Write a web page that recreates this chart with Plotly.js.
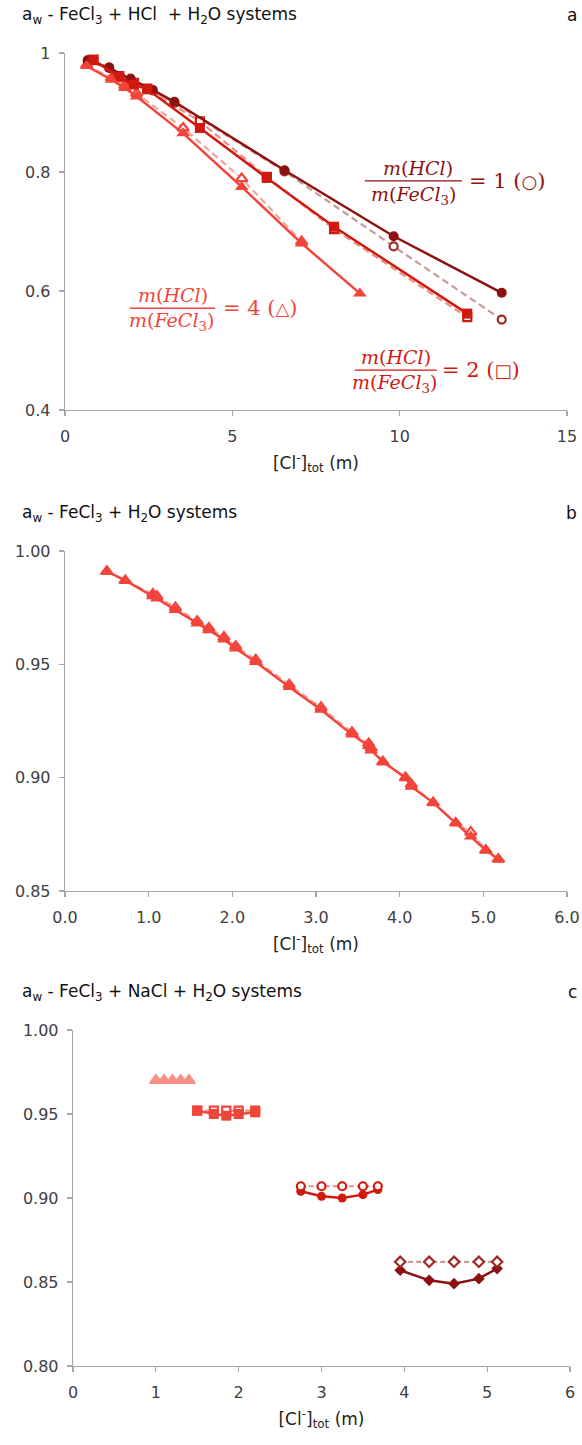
<!DOCTYPE html>
<html><head><meta charset="utf-8">
<script src="https://cdn.plot.ly/plotly-3.0.1.min.js"></script>
<style>html,body{margin:0;padding:0;background:#fff}#chart{width:582px;height:1445px}</style>
</head><body><div id="chart"></div>
<script>
// ---------- Panel a: aw - FeCl3 + HCl + H2O ----------
const a1_x = [0.68, 1.32, 1.96, 2.62, 3.27, 6.56, 9.82, 13.05];
const a1_y = [0.987, 0.975, 0.956, 0.938, 0.918, 0.803, 0.692, 0.597];
const a1d_x = [0.68, 1.32, 1.96, 2.62, 3.27, 6.56, 9.82, 13.05];
const a1d_y = [0.988, 0.976, 0.957, 0.937, 0.916, 0.801, 0.675, 0.552];
const a2_x = [0.85, 1.62, 2.06, 2.46, 4.03, 6.03, 8.04, 12.02];
const a2_y = [0.988, 0.960, 0.947, 0.939, 0.874, 0.790, 0.708, 0.562];
const a2d_x = [0.85, 1.62, 2.06, 2.46, 4.03, 6.03, 8.04, 12.02];
const a2d_y = [0.989, 0.961, 0.950, 0.940, 0.885, 0.792, 0.704, 0.556];
const a3_x = [0.65, 1.39, 1.79, 2.14, 3.53, 5.28, 7.07, 8.81];
const a3_y = [0.978, 0.955, 0.941, 0.927, 0.865, 0.775, 0.680, 0.596];
const a3d_x = [0.65, 1.39, 1.79, 2.14, 3.53, 5.28, 7.07];
const a3d_y = [0.980, 0.958, 0.945, 0.932, 0.874, 0.789, 0.683];

// ---------- Panel b: aw - FeCl3 + H2O ----------
const b_x = [0.5, 0.72, 1.05, 1.1, 1.32, 1.58, 1.72, 1.9, 2.04, 2.28, 2.68, 3.06, 3.43, 3.63, 3.66, 3.8, 4.07, 4.14, 4.4, 4.67, 4.85, 5.03, 5.18];
const b_y = [0.991, 0.987, 0.980, 0.979, 0.974, 0.968, 0.965, 0.961, 0.957, 0.951, 0.940, 0.930, 0.919, 0.914, 0.912, 0.907, 0.900, 0.896, 0.889, 0.880, 0.874, 0.868, 0.864];
const bd_y = [0.991, 0.987, 0.981, 0.980, 0.975, 0.969, 0.966, 0.962, 0.958, 0.952, 0.941, 0.931, 0.920, 0.915, 0.913, 0.907, 0.900, 0.897, 0.889, 0.880, 0.876, 0.868, 0.864];

// ---------- Panel c: aw - FeCl3 + NaCl + H2O ----------
const c1_x = [1.0, 1.1, 1.2, 1.3, 1.4];
const c1_y = [0.970, 0.970, 0.970, 0.970, 0.970];
const c1d_y = [0.970, 0.970, 0.970, 0.970, 0.970];
const c2_x = [1.5, 1.7, 1.85, 2.0, 2.2];
const c2_y = [0.952, 0.950, 0.949, 0.950, 0.951];
const c2d_y = [0.952, 0.952, 0.952, 0.952, 0.952];
const c3_x = [2.75, 3.0, 3.25, 3.5, 3.68];
const c3_y = [0.904, 0.901, 0.900, 0.902, 0.905];
const c3d_y = [0.907, 0.907, 0.907, 0.907, 0.907];
const c4_x = [3.95, 4.3, 4.6, 4.9, 5.12];
const c4_y = [0.857, 0.851, 0.849, 0.852, 0.858];
const c4d_y = [0.862, 0.862, 0.862, 0.862, 0.862];

const titles = [
  "a<sub>w</sub> - FeCl<sub>3</sub> + HCl  + H<sub>2</sub>O systems",
  "a<sub>w</sub> - FeCl<sub>3</sub> + H<sub>2</sub>O systems",
  "a<sub>w</sub> - FeCl<sub>3</sub> + NaCl + H<sub>2</sub>O systems"
];
const letters = ["a", "b", "c"];
const xTitle = "[Cl<sup>-</sup>]<sub>tot</sub> (m)";

// colours
const DARK = '#8E1111', DARKD = '#C99A96', DARKM = '#9E2A26';
const RED = '#D0190F', REDD = '#EE8C86';
const ORG = '#F2443A', ORGD = '#F7A49B';
const SAL = '#F58F86';

const W = 582, H = 1445;
const PX = p => p / W, PY = p => 1 - p / H;

function line(x, y, color, sym, size, xa, ya, dash, mcolor, open) {
  return {
    x: x, y: y, xaxis: xa, yaxis: ya, type: 'scatter', mode: 'lines+markers',
    line: {color: color, width: dash ? 2.2 : 2.5, dash: dash || 'solid'},
    marker: open ? {symbol: sym, size: size, color: '#ffffff', line: {width: 2.2, color: mcolor || color}}
                 : {symbol: sym, size: size, color: mcolor || color},
    cliponaxis: false, showlegend: false, hoverinfo: 'x+y'
  };
}

const data = [
  // panel a (dashed first, solids on top)
  line(a1d_x, a1d_y, DARKD, 'circle', 8, 'x', 'y', '7px,4px', DARKM, true),
  line(a2d_x, a2d_y, REDD, 'square', 8, 'x', 'y', '7px,4px', RED, true),
  line(a3d_x, a3d_y, ORGD, 'triangle-up', 10, 'x', 'y', '7px,4px', ORG, true),
  line(a1_x, a1_y, DARK, 'circle', 10, 'x', 'y'),
  line(a2_x, a2_y, RED, 'square', 10, 'x', 'y'),
  line(a3_x, a3_y, ORG, 'triangle-up', 12, 'x', 'y'),
  // panel b
  line(b_x, bd_y, ORGD, 'triangle-up', 10, 'x2', 'y2', '7px,4px', ORG, true),
  line(b_x, b_y, ORG, 'triangle-up', 12, 'x2', 'y2'),
  // panel c
  line(c1_x, c1d_y, ORGD, 'triangle-up', 10, 'x3', 'y3', '5px,3px', SAL, true),
  line(c1_x, c1_y, SAL, 'triangle-up', 12, 'x3', 'y3'),
  line(c2_x, c2d_y, REDD, 'square', 8, 'x3', 'y3', '5px,3px', ORG, true),
  line(c2_x, c2_y, ORG, 'square', 10, 'x3', 'y3'),
  line(c3_x, c3_y, RED, 'circle', 9, 'x3', 'y3'),
  line(c3_x, c3d_y, REDD, 'circle', 8, 'x3', 'y3', '5px,3px', RED, true),
  line(c4_x, c4_y, DARK, 'diamond', 9, 'x3', 'y3'),
  line(c4_x, c4d_y, DARKD, 'diamond', 8, 'x3', 'y3', '5px,3px', DARKM, true)
];

const AX = '#A6A6A6';
const TF = {family: 'DejaVu Sans, Verdana, sans-serif', size: 16, color: '#404040'};
function xax(domain, anchor, range, dtick, fmt) {
  return {domain: domain, anchor: anchor, range: range, dtick: dtick, tick0: 0, tickformat: fmt,
    showgrid: false, zeroline: false, showline: true, linecolor: AX, linewidth: 1.3,
    ticks: 'outside', ticklen: 5, tickcolor: AX, tickwidth: 1.3, tickfont: TF, ticklabelstandoff: 6, fixedrange: true,
    title: {text: xTitle, font: {family: 'DejaVu Sans, sans-serif', size: 17, color: '#222'}, standoff: 12}};
}
function yax(domain, anchor, range, dtick, fmt) {
  return {domain: domain, anchor: anchor, range: range, dtick: dtick, tick0: 0, tickformat: fmt,
    showgrid: false, zeroline: false, showline: true, linecolor: AX, linewidth: 1.3,
    ticks: 'outside', ticklen: 5, tickcolor: AX, tickwidth: 1.3, tickfont: TF, ticklabelstandoff: 5, fixedrange: true};
}

const tops = [53, 551, 1030], bots = [410, 891, 1366];
const lefts = [65, 65, 73], rights = [567, 567, 570];

const layout = {
  width: W, height: H, margin: {l: 0, r: 0, t: 0, b: 0},
  paper_bgcolor: '#fff', plot_bgcolor: '#fff', showlegend: false,
  xaxis: xax([PX(lefts[0]), PX(rights[0])], 'y', [0, 15], 5, ''),
  yaxis: yax([PY(bots[0]), PY(tops[0])], 'x', [0.4, 1], 0.2, ''),
  xaxis2: xax([PX(lefts[1]), PX(rights[1])], 'y2', [0, 6], 1, '.1f'),
  yaxis2: yax([PY(bots[1]), PY(tops[1])], 'x2', [0.85, 1.0], 0.05, '.2f'),
  xaxis3: xax([PX(lefts[2]), PX(rights[2])], 'y3', [0, 6], 1, ''),
  yaxis3: yax([PY(bots[2]), PY(tops[2])], 'x3', [0.8, 1.0], 0.05, '.2f'),
  annotations: [], shapes: []
};

const TT = {family: 'DejaVu Sans, sans-serif', size: 17, color: '#111'};
for (let i = 0; i < 3; i++) {
  layout.annotations.push({xref: 'paper', yref: 'paper', x: PX(20), y: PY(tops[i] - 38), xanchor: 'left', yanchor: 'middle',
    text: titles[i], showarrow: false, font: TT});
  layout.annotations.push({xref: 'paper', yref: 'paper', x: PX(579), y: PY(tops[i] - 38), xanchor: 'right', yanchor: 'middle',
    text: letters[i], showarrow: false, font: TT});
}

// fraction labels in panel a
const MF = 'DejaVu Serif, Liberation Serif, serif';
const sym = s => "<span style='font-size:18px'>" + s + "</span>";
const ratioLabels = [
  {num: 10.55, y: 0.807, den: 10.4, dy: 0.760, l0: 8.96, l1: 11.86, ly: 0.785, eq: 12.0, t: '= 1 (' + sym('○') + ')', c: DARK},
  {num: 9.9, y: 0.489, den: 9.86, dy: 0.444, l0: 8.66, l1: 11.11, ly: 0.467, eq: 11.2, t: '= 2 (' + sym('□') + ')', c: RED},
  {num: 3.24, y: 0.593, den: 3.18, dy: 0.548, l0: 1.94, l1: 4.48, ly: 0.571, eq: 4.66, t: '= 4 (' + sym('△') + ')', c: ORG}
];
ratioLabels.forEach(r => {
  layout.annotations.push({xref: 'x', yref: 'y', x: r.num, y: r.y, text: '<i>m</i>(<i>HCl</i>)', showarrow: false,
    font: {family: MF, size: 19, color: r.c}});
  layout.annotations.push({xref: 'x', yref: 'y', x: r.den, y: r.dy, text: '<i>m</i>(<i>FeCl</i><sub>3</sub>)', showarrow: false,
    font: {family: MF, size: 19, color: r.c}});
  layout.annotations.push({xref: 'x', yref: 'y', x: r.eq, y: r.ly, xanchor: 'left', text: r.t, showarrow: false,
    font: {family: MF, size: 21, color: r.c}});
  layout.shapes.push({type: 'line', xref: 'x', yref: 'y', x0: r.l0, x1: r.l1, y0: r.ly, y1: r.ly,
    line: {color: r.c, width: 1.4}});
});

Plotly.newPlot('chart', data, layout, {staticPlot: true, displayModeBar: false});
</script></body></html>
